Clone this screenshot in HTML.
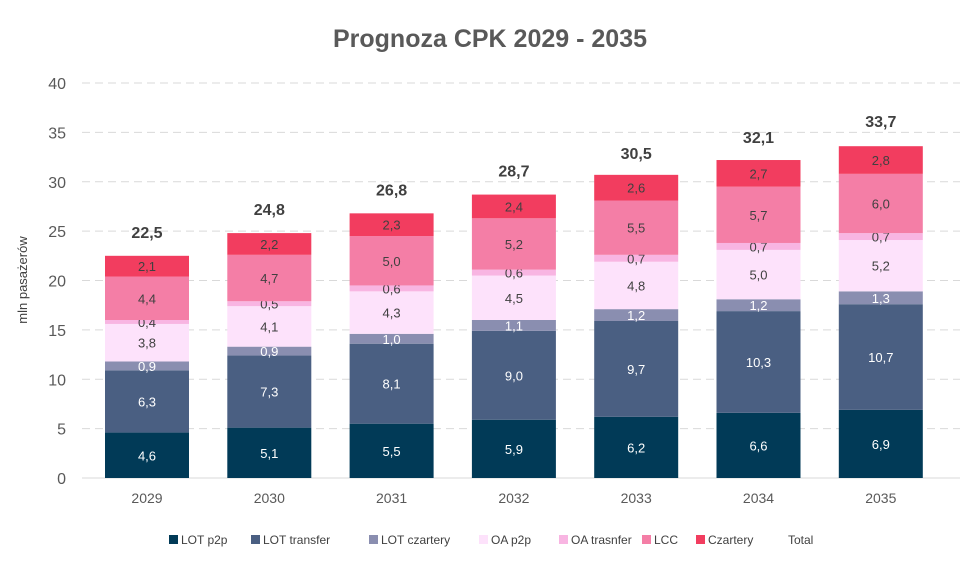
<!DOCTYPE html>
<html><head><meta charset="utf-8"><style>
body{margin:0;background:#fff;font-family:"Liberation Sans",sans-serif;}
svg text{font-family:"Liberation Sans",sans-serif;}
</style></head><body>
<svg id="c" width="975" height="561">
<text x="490" y="47" text-anchor="middle" font-size="25" font-weight="bold" fill="#595959">Prognoza CPK 2029 - 2035</text>
<text transform="translate(27,280) rotate(-90)" text-anchor="middle" font-size="13" fill="#404040">mln pasażerów</text>
<g id="grid"></g><g id="bars"></g><g id="legend"></g>
</svg>
<script>
const years=["2029","2030","2031","2032","2033","2034","2035"];
const seriesNames=["LOT p2p","LOT transfer","LOT czartery","OA p2p","OA trasnfer","LCC","Czartery"];
const lotP2p=[4.6,5.1,5.5,5.9,6.2,6.6,6.9];
const lotTransfer=[6.3,7.3,8.1,9.0,9.7,10.3,10.7];
const lotCzartery=[0.9,0.9,1.0,1.1,1.2,1.2,1.3];
const oaP2p=[3.8,4.1,4.3,4.5,4.8,5.0,5.2];
const oaTransfer=[0.4,0.5,0.6,0.6,0.7,0.7,0.7];
const lcc=[4.4,4.7,5.0,5.2,5.5,5.7,6.0];
const czartery=[2.1,2.2,2.3,2.4,2.6,2.7,2.8];
const totals=[22.5,24.8,26.8,28.7,30.5,32.1,33.7];
const yTicks=[0,5,10,15,20,25,30,35,40];
const series=[lotP2p,lotTransfer,lotCzartery,oaP2p,oaTransfer,lcc,czartery];
const colors=["#013a57","#4a5f82","#8a8eb0","#fde2fb","#f8b5e2","#f47ea6","#f23d5f"];
const textCol=["#fff","#fff","#fff","#404040","#404040","#404040","#404040"];
const NS="http://www.w3.org/2000/svg";
const y=v=>478-v*9.875;
const x=i=>147+i*122.3;
const bw=84;
function mk(t,a,p){const e=document.createElementNS(NS,t);for(const k in a)e.setAttribute(k,a[k]);p.appendChild(e);return e;}
const grid=document.getElementById('grid');
yTicks.forEach(t=>{
 if(t>0){const l=mk('line',{x1:82,x2:960,y1:y(t),y2:y(t),stroke:'#d9d9d9','stroke-dasharray':'8,5'},grid);
 
 }
 const tx=mk('text',{x:66,y:y(t)+6,'text-anchor':'end','font-size':16,fill:'#595959'},grid);tx.textContent=t;
 
 
});
const ax=mk('line',{x1:82,x2:960,y1:478,y2:478,stroke:'#d9d9d9'},grid);


const bars=document.getElementById('bars');
years.forEach((yr,i)=>{
 let acc=0;
 series.forEach((s,k)=>{
  const v=s[i];
  const r=mk('rect',{x:x(i)-bw/2,y:y(acc+v),width:bw,height:y(acc)-y(acc+v),fill:colors[k]},bars);
  
  
  const t=mk('text',{x:x(i),y:(y(acc)+y(acc+v))/2+5,'text-anchor':'middle','font-size':13,fill:textCol[k]},bars);
  t.textContent=v.toFixed(1).replace('.',',');
  
  
  acc+=v;
 });
 const tt=mk('text',{x:x(i),y:y(totals[i])-18,'text-anchor':'middle','font-size':16,'font-weight':'bold',fill:'#404040'},bars);
 tt.textContent=totals[i].toFixed(1).replace('.',',');
 
 
 const xl=mk('text',{x:x(i),y:503,'text-anchor':'middle','font-size':14,fill:'#595959'},bars);
 xl.textContent=yr;
 
 
});
const lg=document.getElementById('legend');
const lx=[169,251,369,479,559,642,696];
seriesNames.forEach((n,k)=>{
 const r=mk('rect',{x:lx[k],y:535,width:9,height:9,fill:colors[k]},lg);
 
 
 const t=mk('text',{x:lx[k]+12,y:544,'font-size':12,fill:'#404040'},lg);
 t.textContent=n;
 
 
});
const tl=mk('text',{x:788,y:544,'font-size':12,fill:'#404040'},lg);
tl.textContent='Total';


</script>
</body></html>
